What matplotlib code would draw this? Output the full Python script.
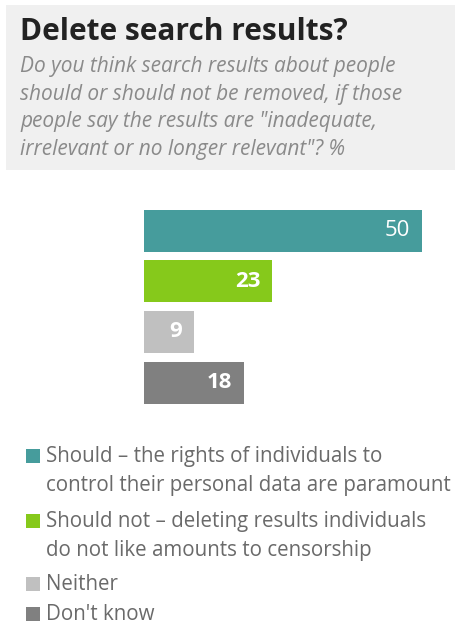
import matplotlib.pyplot as plt
from matplotlib.patches import Rectangle

plt.rcParams['font.family'] = ['Open Sans', 'DejaVu Sans']

# Survey answers, in display order
categories = ['Should', 'Should not', 'Neither', "Don't know"]
values = [50, 23, 9, 18]
legend_labels = [
    ['Should \u2013 the rights of individuals to', 'control their personal data are paramount'],
    ['Should not \u2013 deleting results individuals', 'do not like amounts to censorship'],
    ['Neither'],
    ["Don't know"],
]
colors = ['#469c9c', '#86c91b', '#c0c0c0', '#808080']

title = 'Delete search results?'
subtitle = ['Do you think search results about people',
            'should or should not be removed, if those',
            'people say the results are "inadequate,',
            'irrelevant or no longer relevant"? %']

W, H = 455, 625
fig = plt.figure(figsize=(W / 100, H / 100), dpi=100)


def fy(px):
    # pixel row from the top -> figure fraction
    return 1 - px / H


# grey header block
fig.patches.append(Rectangle((6 / W, fy(170)), 1, 165 / H, transform=fig.transFigure,
                             facecolor='#f0f0f0', edgecolor='none', zorder=0))
fig.text(20 / W, fy(40), title, fontsize=21.5, fontweight='bold',
         color='#222222', va='baseline')
for k, line in enumerate(subtitle):
    fig.text(20 / W, fy(72 + 27.7 * k), line, fontsize=15, style='italic',
             color='#8a8a8a', va='baseline')

# bars
ax = fig.add_axes([144 / W, fy(408), 278 / W, 202.8 / H])
pos = list(range(len(values)))
ax.barh(pos, values, height=0.83, color=colors)
ax.set_xlim(0, 50)
ax.set_ylim(3.5, -0.5)
ax.axis('off')
for i, v in enumerate(values):
    ax.text(v - 2.1, i, str(v), color='white', fontsize=16,
            fontweight='normal' if i == 0 else 'bold', ha='right', va='center')

# legend
legend_base = [462, 527, 590, 620]
for lines, col, y in zip(legend_labels, colors, legend_base):
    fig.patches.append(Rectangle((26 / W, fy(y + 1)), 14 / W, 14 / H,
                                 transform=fig.transFigure, facecolor=col, edgecolor='none'))
    for k, line in enumerate(lines):
        fig.text(46 / W, fy(y + 29 * k), line, fontsize=14.8, color='#6a6a6a',
                 va='baseline')

fig.savefig('out.png', dpi=100)
